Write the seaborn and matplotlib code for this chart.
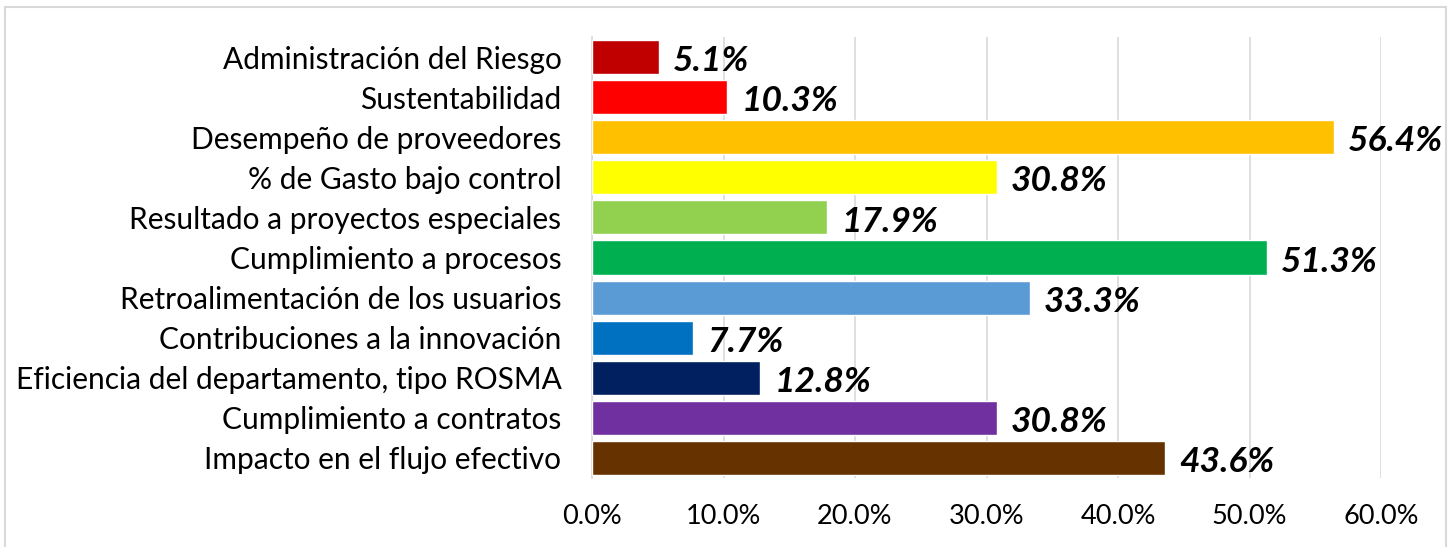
import matplotlib
matplotlib.use("Agg")
import matplotlib.pyplot as plt
import seaborn as sns
import pandas as pd
from matplotlib.patches import Rectangle
from matplotlib.ticker import FuncFormatter

categories = [
    "Administración del Riesgo",
    "Sustentabilidad",
    "Desempeño de proveedores",
    "% de Gasto bajo control",
    "Resultado a proyectos especiales",
    "Cumplimiento a procesos",
    "Retroalimentación de los usuarios",
    "Contribuciones a la innovación",
    "Eficiencia del departamento, tipo ROSMA",
    "Cumplimiento a contratos",
    "Impacto en el flujo efectivo",
]
values = [0.051, 0.103, 0.564, 0.308, 0.179, 0.513, 0.333, 0.077, 0.128, 0.308, 0.436]
colors = ["#C00000", "#FF0000", "#FFC000", "#FFFF00", "#92D050", "#00B050",
          "#5B9BD5", "#0070C0", "#002060", "#7030A0", "#663300"]
xticks = [0.0, 0.1, 0.2, 0.3, 0.4, 0.5, 0.6]

sns.set_theme(style="white")
plt.rcParams["font.family"] = ["Lato", "DejaVu Sans"]

df = pd.DataFrame({"cat": categories, "val": values})

fig = plt.figure(figsize=(14.49, 5.47), dpi=100)
ax = fig.add_axes([592/1449, 1-478/547, (1381-592)/1449, (478-37)/547])

sns.barplot(data=df, x="val", y="cat", hue="cat", palette=colors, legend=False,
            orient="h", width=0.85, ax=ax, saturation=1, zorder=3)

ax.set_xlim(0, 0.6)
ax.set_ylim(10.5, -0.5)
ax.set_xticks(xticks)
ax.xaxis.set_major_formatter(FuncFormatter(lambda v, p: f"{v*100:.1f}%"))
ax.grid(axis="x", color="#D9D9D9", linewidth=1.2, zorder=0)
ax.set_xlabel("")
ax.set_ylabel("")
for s in ["top", "right", "bottom"]:
    ax.spines[s].set_visible(False)
ax.spines["left"].set_color("#D9D9D9")
ax.spines["left"].set_linewidth(1.2)
ax.tick_params(axis="both", length=0, colors="black")
ax.tick_params(axis="y", pad=22, labelsize=21.5)
ax.tick_params(axis="x", pad=19, labelsize=19.5)

for i, v in enumerate(values):
    ax.annotate(f"{v*100:.1f}%", xy=(v, i), xytext=(10, -3), textcoords="offset points",
                ha="left", va="center", fontsize=25.5, fontweight="bold", fontstyle="italic",
                color="black")

fig.patches.append(Rectangle((5/1449, -0.1), (1446-5)/1449, 1-7/547+0.1,
                             transform=fig.transFigure, fill=False,
                             edgecolor="#D9D9D9", linewidth=1.5))

fig.savefig("out.png", dpi=100, facecolor="white")
